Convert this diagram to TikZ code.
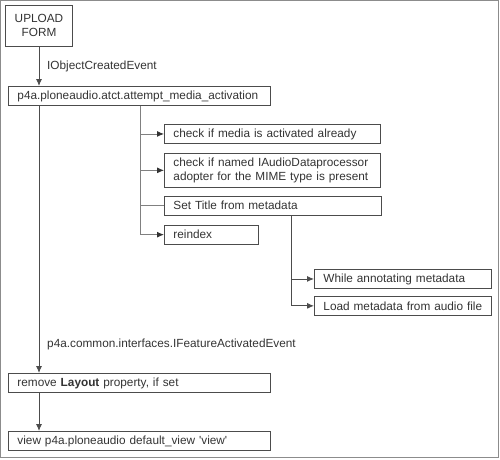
\documentclass[tikz,border=0pt]{standalone}
\usepackage{fontspec}
\setmainfont{Liberation Sans}
\usetikzlibrary{positioning}
\usetikzlibrary{calc}
\usetikzlibrary{arrows.meta}
\definecolor{inkgray}{gray}{0.2}
\definecolor{linegray}{gray}{0.3}
\definecolor{forkgray}{gray}{0.5}
\definecolor{framegray}{gray}{0.55}
\newcommand{\boxfont}{\fontsize{11.8}{14.5}\selectfont}
\tikzset{
  box/.style            = { rectangle, minimum height=19pt, inner xsep=9pt, inner ysep=0pt },
  border/.style         = { line width=0.9pt, draw=linegray },
}
\tikzset{
  action/.style={
    box,
    border,
    anchor=north west,
    align=left,
    text=inkgray,
    font=\boxfont
  },
  wide/.style           = { action, text width=244pt },
  medium/.style         = { action, text width=198pt },
  short/.style          = { action, text width=159pt },
  event/.style          = { anchor=west, inner sep=0pt, text=inkgray, font=\boxfont },
  link/.style           = { line width=0.9pt, draw=linegray },
  flow/.style           = { link, -{Latex[length=7pt,width=6pt]} },
  branch/.style         = { link, draw=forkgray },
  branchflow/.style     = { branch, -{Latex[length=7pt,width=6pt,color=black!80]} }
}
\begin{document}
\begin{tikzpicture}[x=1pt, y=1pt]
  \useasboundingbox (0,0) rectangle (500,-459);
  \draw [framegray, line width=1pt] (0.5,-0.5) rectangle (498.5,-457.5);

  \node (upload) [box, border, minimum width=62pt, minimum height=41pt,
    align=center, text=inkgray, font=\boxfont] at (39,-25.5) {UPLOAD\\FORM};
  \node (activation) [wide] at (8,-86) {p4a.ploneaudio.atct.attempt\_media\_activation};
  \node (mediacheck) [medium] at (164,-124) {check if media is activated already};
  \node (adaptercheck) [medium, minimum height=34pt, below=9pt of mediacheck.south west,
    anchor=north west] {check if named IAudioDataprocessor\\adopter for the MIME type is present};
  \node (settitle) [medium, text width=199pt, below=8pt of adaptercheck.south west,
    anchor=north west] {Set Title from metadata};
  \node (reindex) [action, text width=76pt, below=9pt of settitle.south west,
    anchor=north west] {reindex};
  \node (annotating) [short] at (314,-269) {While annotating metadata};
  \node (loadmeta) [short, below=7pt of annotating.south west,
    anchor=north west] {Load metadata from audio file};
  \node (removelayout) [wide] at (8,-373) {remove \textbf{Layout} property, if set};
  \node (defaultview) [wide] at (8,-431) {view p4a.ploneaudio default\_view \textquotesingle view\textquotesingle};

  \node (created)   [event] at (47,-66)  {IObjectCreatedEvent};
  \node (activated) [event] at (47,-344) {p4a.common.interfaces.IFeatureActivatedEvent};

  \coordinate (fork)    at ($(activation.south west)+(132,0)$);
  \coordinate (subfork) at ($(settitle.south west)+(127,0)$);

  \draw [flow] (upload) -- (upload |- activation.north);
  \draw [flow] (activation.south -| upload) -- (removelayout.north -| upload);
  \draw [flow] (removelayout.south -| upload) -- (defaultview.north -| upload);

  \draw [branchflow] (fork) |- (reindex.west);
  \draw [branchflow] (fork |- mediacheck.west) -- (mediacheck.west);
  \draw [branchflow] (fork |- adaptercheck.west) -- (adaptercheck.west);
  \draw [branch]     (fork |- settitle.west) -- (settitle.west);

  \draw [flow] (subfork) |- (loadmeta.west);
  \draw [flow] (subfork |- annotating.west) -- (annotating.west);
\end{tikzpicture}
\end{document}
